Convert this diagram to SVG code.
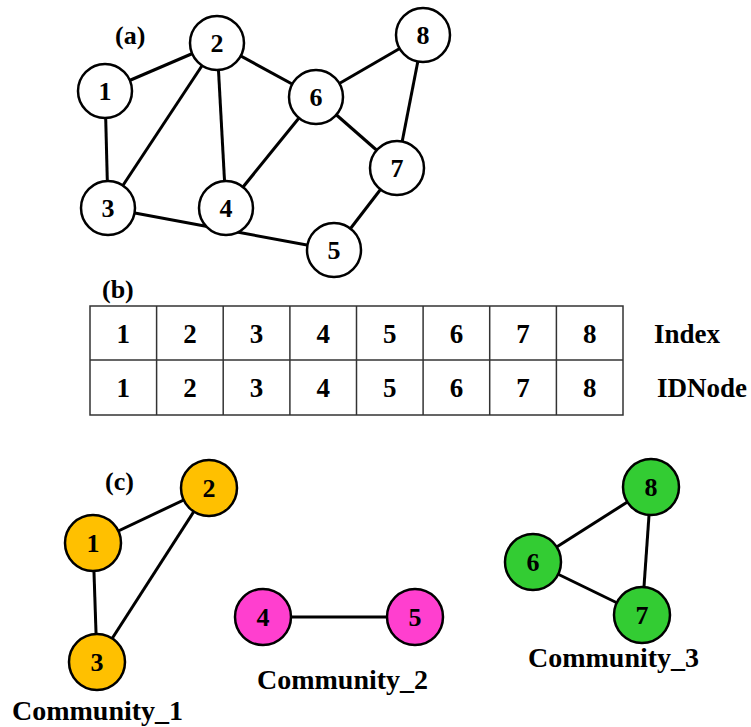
<svg xmlns="http://www.w3.org/2000/svg" width="751" height="727" viewBox="0 0 751 727">
<style>
  text { font-family: "Liberation Serif", "Times New Roman", serif; font-weight: bold; fill: #000; }
  .lbl { font-size: 26px; text-anchor: middle; }
  .cap { font-size: 26px; }
  .big { font-size: 27px; }
  .com { font-size: 28px; }
  .num { font-size: 27px; text-anchor: middle; }
  .edge { stroke: #000; stroke-width: 3; fill: none; }
  .n { stroke: #000; stroke-width: 2.5; }
  .w { fill: #fff; }
  .o { fill: #FFC000; }
  .m { fill: #FF3FCF; }
  .g { fill: #33CC33; }
  .cell { fill: none; stroke: #333; stroke-width: 1.5; }
</style>
<rect width="751" height="727" fill="#fff"/>

<text class="cap" x="115" y="44">(a)</text>
<text class="cap" x="102" y="298">(b)</text>
<text class="cap" x="105" y="490">(c)</text>

<g id="connectors">
  <line class="edge" x1="105" y1="91" x2="217" y2="43"/>
  <line class="edge" x1="105" y1="91" x2="108" y2="208"/>
  <line class="edge" x1="217" y1="43" x2="108" y2="208"/>
  <line class="edge" x1="217" y1="43" x2="226" y2="208"/>
  <line class="edge" x1="217" y1="43" x2="316" y2="97"/>
  <line class="edge" x1="108" y1="208" x2="226" y2="230"/>
  <line class="edge" x1="226" y1="230" x2="334" y2="250"/>
  <line class="edge" x1="226" y1="208" x2="316" y2="97"/>
  <line class="edge" x1="316" y1="97" x2="423" y2="35"/>
  <line class="edge" x1="316" y1="97" x2="397" y2="168"/>
  <line class="edge" x1="423" y1="35" x2="397" y2="168"/>
  <line class="edge" x1="334" y1="250" x2="397" y2="168"/>

  <line class="edge" x1="93" y1="543" x2="209" y2="488"/>
  <line class="edge" x1="93" y1="543" x2="97" y2="662"/>
  <line class="edge" x1="209" y1="488" x2="97" y2="662"/>
  <line class="edge" x1="263" y1="617" x2="415" y2="617"/>
  <line class="edge" x1="533" y1="562" x2="651" y2="487"/>
  <line class="edge" x1="533" y1="562" x2="642" y2="615"/>
  <line class="edge" x1="651" y1="487" x2="642" y2="615"/>
</g>

<g id="a1"><circle class="n w" cx="105" cy="91" r="27"/><text class="lbl" x="105" y="100">1</text></g>
<g id="a2"><circle class="n w" cx="217" cy="43" r="27"/><text class="lbl" x="217" y="52">2</text></g>
<g id="a3"><circle class="n w" cx="108" cy="208" r="27"/><text class="lbl" x="108" y="217">3</text></g>
<g id="a4"><circle class="n w" cx="226" cy="208" r="27"/><text class="lbl" x="226" y="217">4</text></g>
<g id="a5"><circle class="n w" cx="334" cy="250" r="27"/><text class="lbl" x="334" y="259">5</text></g>
<g id="a6"><circle class="n w" cx="316" cy="97" r="27"/><text class="lbl" x="316" y="106">6</text></g>
<g id="a7"><circle class="n w" cx="397" cy="168" r="27"/><text class="lbl" x="397" y="177">7</text></g>
<g id="a8"><circle class="n w" cx="423" cy="35" r="27"/><text class="lbl" x="423" y="44">8</text></g>

<g id="table">
  <rect class="cell" x="90" y="306" width="533" height="109"/>
  <line class="cell" x1="90" y1="360" x2="623" y2="360"/>
  <line class="cell" x1="156.6" y1="306" x2="156.6" y2="415"/>
  <line class="cell" x1="223.2" y1="306" x2="223.2" y2="415"/>
  <line class="cell" x1="289.9" y1="306" x2="289.9" y2="415"/>
  <line class="cell" x1="356.5" y1="306" x2="356.5" y2="415"/>
  <line class="cell" x1="423.1" y1="306" x2="423.1" y2="415"/>
  <line class="cell" x1="489.7" y1="306" x2="489.7" y2="415"/>
  <line class="cell" x1="556.4" y1="306" x2="556.4" y2="415"/>
  <text class="num" x="123.3" y="343">1</text>
  <text class="num" x="189.9" y="343">2</text>
  <text class="num" x="256.6" y="343">3</text>
  <text class="num" x="323.2" y="343">4</text>
  <text class="num" x="389.8" y="343">5</text>
  <text class="num" x="456.4" y="343">6</text>
  <text class="num" x="523.1" y="343">7</text>
  <text class="num" x="589.7" y="343">8</text>
  <text class="num" x="123.3" y="397">1</text>
  <text class="num" x="189.9" y="397">2</text>
  <text class="num" x="256.6" y="397">3</text>
  <text class="num" x="323.2" y="397">4</text>
  <text class="num" x="389.8" y="397">5</text>
  <text class="num" x="456.4" y="397">6</text>
  <text class="num" x="523.1" y="397">7</text>
  <text class="num" x="589.7" y="397">8</text>
  <text class="big" x="654" y="343">Index</text>
  <text class="big" x="657" y="397">IDNode</text>
</g>

<g id="c1"><circle class="n o" cx="93" cy="543" r="28"/><text class="lbl" x="93" y="552">1</text></g>
<g id="c2"><circle class="n o" cx="209" cy="488" r="28"/><text class="lbl" x="209" y="497">2</text></g>
<g id="c3"><circle class="n o" cx="97" cy="662" r="28"/><text class="lbl" x="97" y="671">3</text></g>
<g id="c4"><circle class="n m" cx="263" cy="617" r="28"/><text class="lbl" x="263" y="626">4</text></g>
<g id="c5"><circle class="n m" cx="415" cy="617" r="28"/><text class="lbl" x="415" y="626">5</text></g>
<g id="c6"><circle class="n g" cx="533" cy="562" r="28"/><text class="lbl" x="533" y="571">6</text></g>
<g id="c7"><circle class="n g" cx="642" cy="615" r="28"/><text class="lbl" x="642" y="624">7</text></g>
<g id="c8"><circle class="n g" cx="651" cy="487" r="28"/><text class="lbl" x="651" y="496">8</text></g>

<text class="com" x="12" y="720">Community_1</text>
<text class="com" x="257" y="689">Community_2</text>
<text class="com" x="528" y="667">Community_3</text>
</svg>
